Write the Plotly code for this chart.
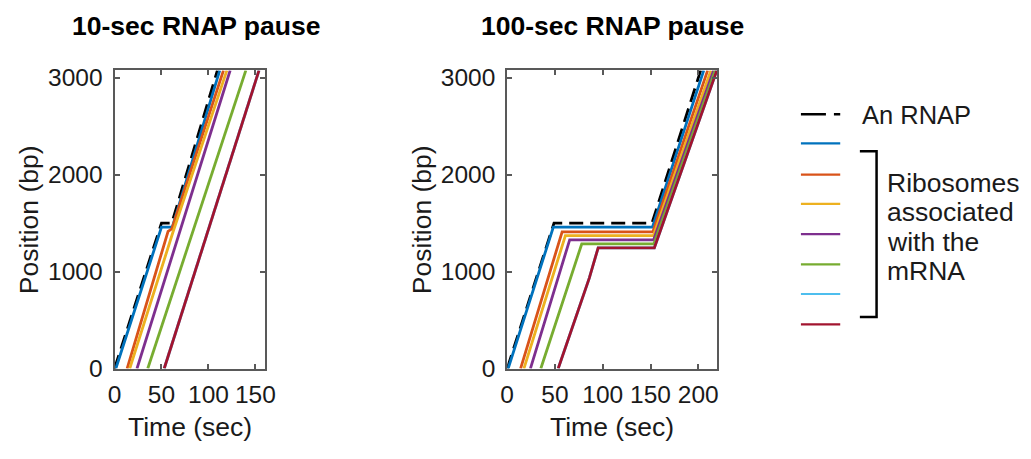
import plotly.graph_objects as go

# page body has an 8px margin: the figure is laid out in reference pixels minus 8
OFF = 8
W, H = 1031 - OFF, 459 - OFF

# ---------------- data ----------------
SERIES = ["An RNAP", "Ribosome 1", "Ribosome 2", "Ribosome 3",
          "Ribosome 4", "Ribosome 5", "Ribosome 6", "Ribosome 7"]
COLORS = ["#000000", "#0072BD", "#D95319", "#EDB120",
          "#7E2F8E", "#77AC30", "#4DBEEE", "#A2142F"]

# 10-sec RNAP pause panel: time (sec) / position (bp) per series
T10_RNAP = [0, 50, 61, 109.5]
P10_RNAP = [0, 1500, 1500, 3075]
T10_R1 = [1.4, 50, 61.5, 112]
P10_R1 = [0, 1458, 1458, 3075]
T10_R2 = [13.4, 57, 61, 116]
P10_R2 = [0, 1415, 1440, 3075]
T10_R3 = [16.2, 62, 119.6]
P10_R3 = [0, 1400, 3075]
T10_R4 = [23.9, 123.1]
P10_R4 = [0, 3075]
T10_R5 = [35.4, 139.8]
P10_R5 = [0, 3075]
T10_R6 = [52.9, 153.8]
P10_R6 = [0, 3075]
T10_R7 = [52.9, 153.8]
P10_R7 = [0, 3075]

# 100-sec RNAP pause panel
T100_RNAP = [0, 49, 151.5, 202.5]
P100_RNAP = [0, 1500, 1500, 3075]
T100_R1 = [1, 48.3, 152, 205.7]
P100_R1 = [0, 1459, 1459, 3075]
T100_R2 = [14, 57.5, 152.5, 209.8]
P100_R2 = [0, 1410, 1410, 3075]
T100_R3 = [17.5, 60.9, 153, 213.2]
P100_R3 = [0, 1371, 1371, 3075]
T100_R4 = [24.3, 65.4, 153.3, 216]
P100_R4 = [0, 1328, 1328, 3075]
T100_R5 = [35.2, 78, 153.5, 217.7]
P100_R5 = [0, 1285, 1285, 3075]
T100_R6 = [53.4, 85.9, 95.2, 154, 219.4]
P100_R6 = [0, 933, 1245, 1245, 3075]
T100_R7 = [53.4, 85.9, 95.2, 154, 219.4]
P100_R7 = [0, 933, 1245, 1245, 3075]

T10 = [T10_RNAP, T10_R1, T10_R2, T10_R3, T10_R4, T10_R5, T10_R7, T10_R6]
P10 = [P10_RNAP, P10_R1, P10_R2, P10_R3, P10_R4, P10_R5, P10_R7, P10_R6]
T100 = [T100_RNAP, T100_R1, T100_R2, T100_R3, T100_R4, T100_R5, T100_R7, T100_R6]
P100 = [P100_RNAP, P100_R1, P100_R2, P100_R3, P100_R4, P100_R5, P100_R7, P100_R6]

TITLES = ["10-sec RNAP pause", "100-sec RNAP pause"]
X_LABEL = "Time (sec)"
Y_LABEL = "Position (bp)"
X10_TICKS = [0, 50, 100, 150]
X100_TICKS = [0, 50, 100, 150, 200]
Y_TICKS = [0, 1000, 2000, 3000]
LEGEND_RNAP = "An RNAP"
LEGEND_RIBO = ["Ribosomes", "associated", "with the", "mRNA"]

FONT = "Liberation Sans, Arial, sans-serif"
AXC = "#595959"

fig = go.Figure()

for panel, (TT, PP, xa, ya) in enumerate([(T10, P10, "x", "y"), (T100, P100, "x2", "y2")]):
    for i, name in enumerate(SERIES):
        line = dict(color=COLORS[i], width=2.8)
        if i == 0:
            line["dash"] = "14px,7px"
        fig.add_trace(go.Scatter(x=TT[i], y=PP[i], mode="lines", line=line,
                                 name=name, xaxis=xa, yaxis=ya,
                                 showlegend=False, hoverinfo="skip"))

def px_x(v):
    return (v - OFF) / W

def px_y(v):
    return 1 - (v - OFF) / H

ax_common = dict(showline=True, linecolor=AXC, linewidth=2, mirror="ticks",
                 ticks="inside", ticklen=5, tickwidth=1.5, tickcolor=AXC,
                 showgrid=False, zeroline=False, fixedrange=True,
                 tickfont=dict(family=FONT, size=24.5, color="#1a1a1a"))

ydom = [px_y(379), px_y(67)]
fig.update_layout(
    width=W, height=H, margin=dict(l=0, r=0, t=0, b=0),
    paper_bgcolor="white", plot_bgcolor="white", showlegend=False,
    xaxis=dict(domain=[px_x(109.3), px_x(262.3)], range=[0, 160], tickvals=X10_TICKS,
               anchor="y", ticklabelstandoff=3, **ax_common),
    yaxis=dict(domain=ydom, range=[0, 3075], tickvals=Y_TICKS, anchor="x",
               ticklabelstandoff=5, **ax_common),
    xaxis2=dict(domain=[px_x(509), px_x(723)], range=[0, 220], tickvals=X100_TICKS,
                anchor="y2", ticklabelstandoff=3, **ax_common),
    yaxis2=dict(domain=ydom, range=[0, 3075], tickvals=Y_TICKS, anchor="x2",
                ticklabelstandoff=5, **ax_common),
)

ann = []
for cx, title in [(192.5, TITLES[0]), (616, TITLES[1])]:
    ann.append(dict(x=px_x(cx), y=px_y(20.5), xref="paper", yref="paper", text="<b>%s</b>" % title,
                    showarrow=False, xanchor="center", yanchor="middle",
                    font=dict(family=FONT, size=26.5, color="#000")))
for cx in [185.8, 616]:
    ann.append(dict(x=px_x(cx), y=px_y(440.5), xref="paper", yref="paper", text=X_LABEL,
                    showarrow=False, xanchor="center", yanchor="middle",
                    font=dict(family=FONT, size=26.5, color="#1a1a1a")))
for cx in [22.5, 422.5]:
    ann.append(dict(x=px_x(cx), y=px_y(223.5), xref="paper", yref="paper", text=Y_LABEL,
                    textangle=-90, showarrow=False, xanchor="center", yanchor="middle",
                    font=dict(family=FONT, size=26.5, color="#1a1a1a")))
ann.append(dict(x=px_x(868), y=px_y(114), xref="paper", yref="paper", text=LEGEND_RNAP,
                showarrow=False, xanchor="left", yanchor="middle",
                font=dict(family=FONT, size=25.5, color="#1a1a1a")))
for k, txt in enumerate(LEGEND_RIBO):
    ann.append(dict(x=px_x(894), y=px_y(185 + 30.7 * k), xref="paper", yref="paper", text=txt,
                    showarrow=False, xanchor="left", yanchor="middle", align="left",
                    font=dict(family=FONT, size=26.5, color="#1a1a1a")))

shapes = []
legend_y = [113, 143.3, 176, 206.7, 238.3, 270, 301, 332.7]
for i, c in enumerate(COLORS):
    line = dict(color=c, width=2.2)
    if i == 0:
        line = dict(color=c, width=2.5, dash="25px,8px")
    shapes.append(dict(type="line", xref="paper", yref="paper",
                       x0=px_x(808), x1=px_x(848), y0=px_y(legend_y[i]), y1=px_y(legend_y[i]),
                       line=line))
# bracket
shapes.append(dict(type="path", xref="paper", yref="paper",
                   path="M %f %f L %f %f L %f %f L %f %f" % (
                       px_x(868), px_y(151.7), px_x(885), px_y(151.7),
                       px_x(885), px_y(325), px_x(868), px_y(325)),
                   line=dict(color="#000", width=2.5)))

fig.update_layout(annotations=ann, shapes=shapes)
fig.write_html("out.html")
